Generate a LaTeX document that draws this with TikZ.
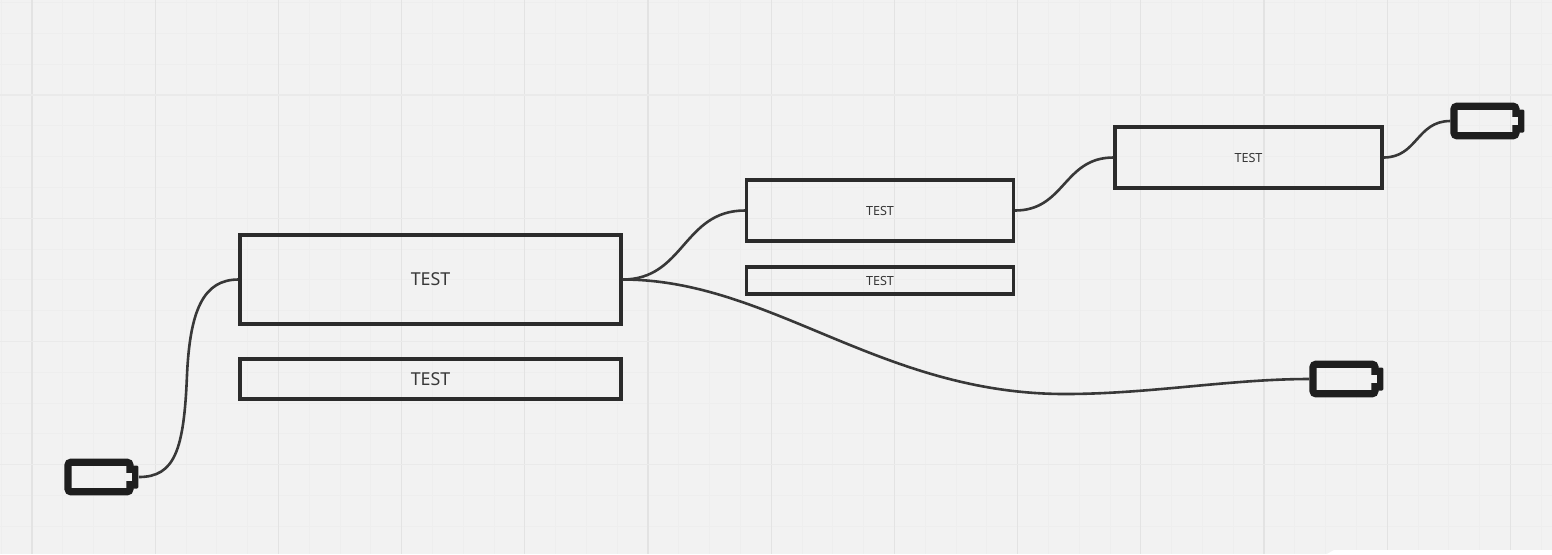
\documentclass[tikz,border=0pt]{standalone}
\usepackage{fontspec}
\usetikzlibrary{calc}
\setmainfont{Noto Sans}
\definecolor{bgc}{HTML}{F2F2F2}
\definecolor{ink}{HTML}{2B2B2B}
\definecolor{wireink}{HTML}{383838}
\definecolor{wordink}{HTML}{383838}
\definecolor{battink}{HTML}{1E1E1E}
\definecolor{gridmaj}{HTML}{E3E3E3}
\definecolor{gridmajh}{HTML}{EAEAEA}
\definecolor{gridmin}{HTML}{EEEEEE}
\tikzset{
  x=0.5pt,y=-0.5pt,
  textbox/.style={draw=ink,line width=1.55pt,inner sep=0pt,text=wordink},
  bigtext/.style={textbox,font=\fontsize{8.9}{11}\selectfont},
  smalltext/.style={textbox,font=\fontsize{6.3}{8}\selectfont},
  wire/.style={draw=wireink,line width=1.3pt},
  battbody/.style={draw=battink,line width=3.6pt,rounded corners=1.5pt,inner sep=0pt,minimum width=31pt,minimum height=14.8pt},
  battnub/.style={fill=battink,inner sep=0pt,minimum width=3.4pt,minimum height=11.5pt,rounded corners=0.6pt},
  battnotch/.style={fill=bgc,inner sep=0pt,minimum width=2.6pt,minimum height=3.6pt},
}
\newcommand{\battery}[3]{%
  \node[battnub] (#1nub) at (#2+36,#3) {};
  \node[battbody] (#1) at (#2,#3) {};
  \node[battnotch] (#1notch) at (#2+30,#3) {};
}
\begin{document}
\begin{tikzpicture}
\useasboundingbox (0,0) rectangle (1552,554);
\fill[bgc] (0,0) rectangle (1552,554);
% grid
\foreach \i in {0,...,50} {
  \pgfmathsetmacro{\gx}{1.2+30.8*\i}
  \draw[gridmin,line width=0.45pt] (\gx,0) -- (\gx,554);
}
\foreach \i in {0,...,17} {
  \pgfmathsetmacro{\gy}{2.6+30.8*\i}
  \draw[gridmin,line width=0.45pt] (0,\gy) -- (1552,\gy);
}
\foreach \i in {0,...,12} {
  \pgfmathsetmacro{\gx}{32+123.2*\i}
  \draw[gridmaj,line width=0.55pt] (\gx,0) -- (\gx,554);
}
\foreach \i in {0,...,3} {
  \pgfmathsetmacro{\gy}{95+123.2*\i}
  \draw[gridmajh,line width=0.55pt] (0,\gy) -- (1552,\gy);
}
\fill[white] (1327,554) -- (1334,550) -- (1552,550) -- (1552,554) -- cycle;
% boxes
\node[bigtext,minimum width=190.5pt,minimum height=44.5pt] (main) at (430.5,279.5) {TEST};
\node[bigtext,minimum width=190.5pt,minimum height=20pt] (mainlow) at (430.5,379) {TEST};
\node[smalltext,minimum width=133.5pt,minimum height=30.5pt] (mid) at (880,210.5) {TEST};
\node[smalltext,minimum width=133.5pt,minimum height=13.5pt] (midlow) at (880,280.5) {TEST};
\node[smalltext,minimum width=133.5pt,minimum height=30.5pt] (top) at (1248.5,157.5) {TEST};
% batteries
\battery{battA}{99}{477}
\battery{battB}{1485}{121}
\battery{battC}{1344}{379}
% connectors
\coordinate (bendA) at (187,375);
\draw[wire] (battAnub.east) .. controls +(36,0) and (184,450) .. (bendA) .. controls (190,310) and ($(main.west)+(-35,0)$) .. (main.west);
\draw[wire] (main.east) .. controls +(62,0) and ($(mid.west)+(-62,0)$) .. (mid.west);
\coordinate (lowC) at (1065,394);
\draw[wire] (main.east) .. controls +(148,0) and (880,394) .. (lowC) .. controls (1150,394) and ($(battC.west)+(-80,0)$) .. (battC.west);
\draw[wire] (mid.east) .. controls +(50,0) and ($(top.west)+(-50,0)$) .. (top.west);
\draw[wire] (top.east) .. controls +(34,0) and ($(battB.west)+(-34,0)$) .. (battB.west);
\end{tikzpicture}
\end{document}
